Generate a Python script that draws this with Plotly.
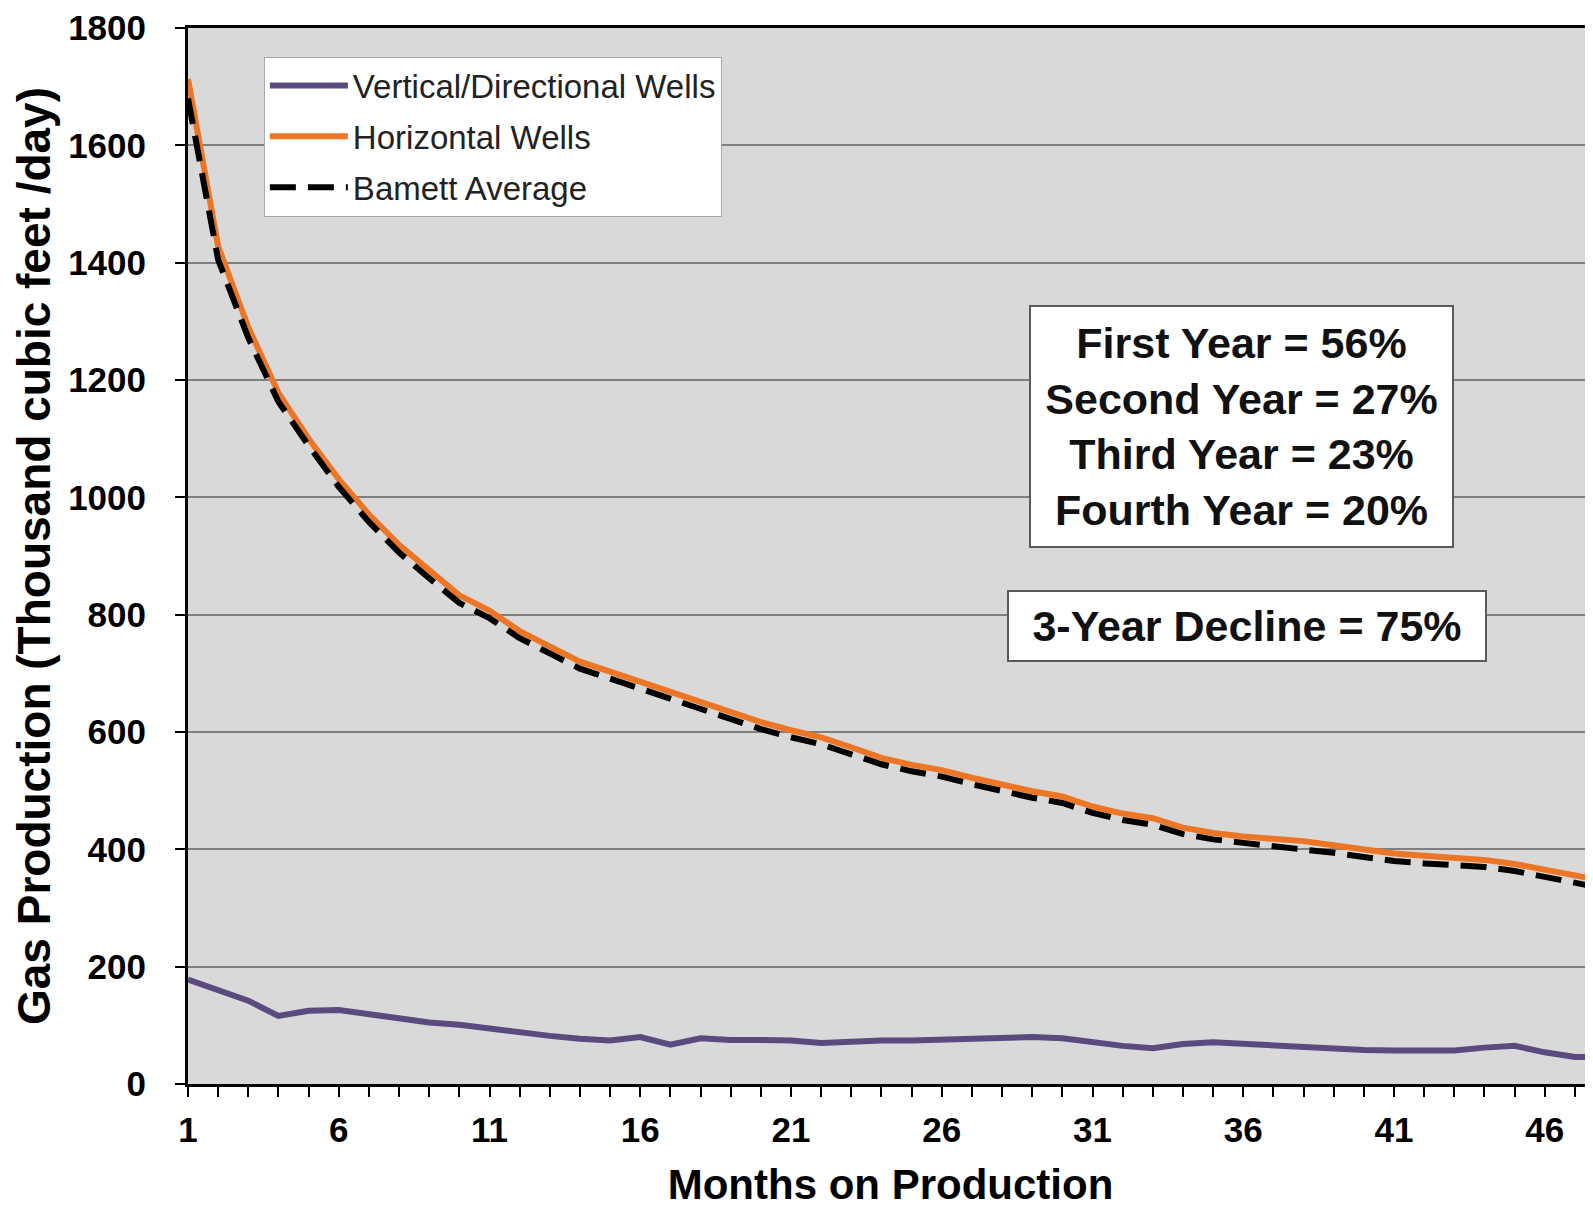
import plotly.graph_objects as go

months = list(range(1, 49))

vertical_wells = [178, 161, 142, 116, 125, 126, 119, 110, 105, 101, 94, 88, 82, 77, 74, 80,
                  67, 78, 75, 75, 74, 70, 73, 74, 74, 75, 77, 78, 80, 78, 71, 65, 61, 68,
                  71, 68, 66, 63, 61, 58, 57, 57, 57, 62, 65, 54, 46, 46]

horizontal_wells = [1713, 1428, 1290, 1178, 1100, 1031, 971, 919, 876, 833, 807, 772, 746,
                    720, 703, 686, 668, 651, 634, 617, 603, 591, 574, 556, 544, 535, 522,
                    510, 499, 490, 473, 461, 453, 437, 428, 422, 418, 414, 407, 400, 393,
                    389, 386, 382, 375, 366, 356, 346]

barnett_average = [1680, 1405, 1272, 1163, 1088, 1018, 958, 906, 862, 820, 794, 760, 734,
                   708, 691, 674, 656, 639, 622, 605, 591, 579, 562, 545, 533, 524, 511,
                   499, 488, 479, 462, 450, 442, 426, 417, 411, 406, 401, 394, 387, 380,
                   376, 373, 370, 363, 353, 343, 333]

x_tick_vals = [1, 6, 11, 16, 21, 26, 31, 36, 41, 46]
y_tick_vals = [0, 200, 400, 600, 800, 1000, 1200, 1400, 1600, 1800]

box1_lines = ["First Year = 56%", "Second Year = 27%", "Third Year = 23%", "Fourth Year = 20%"]
box2_text = "3-Year Decline = 75%"

FONT = "Liberation Sans, Arial, sans-serif"

fig = go.Figure()
fig.add_trace(go.Scatter(x=months, y=vertical_wells, mode="lines",
                         name="Vertical/Directional Wells", legendgroup="a",
                         line=dict(color="#5b4a7f", width=6)))
fig.add_trace(go.Scatter(x=months, y=horizontal_wells, mode="lines",
                         name="Horizontal Wells", legendgroup="b",
                         line=dict(color="#ec7626", width=6)))
fig.add_trace(go.Scatter(x=months, y=barnett_average, mode="lines",
                         name="Bamett Average", legendgroup="c",
                         line=dict(color="#000000", width=6, dash="26px,12px")))

fig.update_layout(
    width=1585, height=1201,
    margin=dict(l=180, r=0, t=17, b=125),
    paper_bgcolor="white",
    plot_bgcolor="#d9d9d9",
    font=dict(family=FONT, color="black"),
    showlegend=True,
    legend=dict(x=0.054, y=0.973, xanchor="left", yanchor="top",
                bgcolor="white", bordercolor="#a8a8a8", borderwidth=1,
                font=dict(size=33, family=FONT, color="#222222"),
                tracegroupgap=5, itemwidth=78),
    xaxis=dict(
        range=[1, 47.6],
        tickvals=x_tick_vals,
        ticktext=[str(v) for v in x_tick_vals],
        ticks="outside", ticklen=10, tickwidth=2, tickcolor="black",
        minor=dict(dtick=1, tick0=1, ticks="outside", ticklen=10, tickwidth=2,
                   tickcolor="black", showgrid=False),
        showgrid=False, zeroline=False,
        showline=True, linecolor="black", linewidth=3, mirror=True,
        tickfont=dict(size=35, family=FONT, weight="bold"),
        ticklabelstandoff=3,
        title=dict(text="Months on Production",
                   font=dict(size=42, family=FONT, weight="bold"), standoff=22),
    ),
    yaxis=dict(
        range=[0, 1800],
        tickvals=y_tick_vals,
        ticks="outside", ticklen=10, tickwidth=2, tickcolor="black",
        showgrid=True, gridcolor="#7f7f7f", gridwidth=2,
        zeroline=False,
        showline=True, linecolor="black", linewidth=3,
        tickfont=dict(size=35, family=FONT, weight="bold"),
        ticklabelstandoff=22,
        ticklabeloverflow="allow",
        title=dict(text="Gas Production (Thousand cubic feet /day)",
                   font=dict(size=46, family=FONT, weight="bold"), standoff=8),
    ),
)

fig.add_annotation(
    xref="paper", yref="paper", x=0.7498, y=0.623, xanchor="center", yanchor="middle",
    text="<br>".join(box1_lines), showarrow=False, align="center",
    font=dict(size=43, family=FONT, weight="bold", color="#111111"),
    bgcolor="white", bordercolor="#5a5a5a", borderwidth=2, borderpad=8,
    width=405, height=223,
)
fig.add_annotation(
    xref="paper", yref="paper", x=0.7537, y=0.4336, xanchor="center", yanchor="middle",
    text=box2_text, showarrow=False, align="center",
    font=dict(size=43, family=FONT, weight="bold", color="#111111"),
    bgcolor="white", bordercolor="#5a5a5a", borderwidth=2, borderpad=8,
    width=460, height=52,
)

fig.write_html("out.html")
